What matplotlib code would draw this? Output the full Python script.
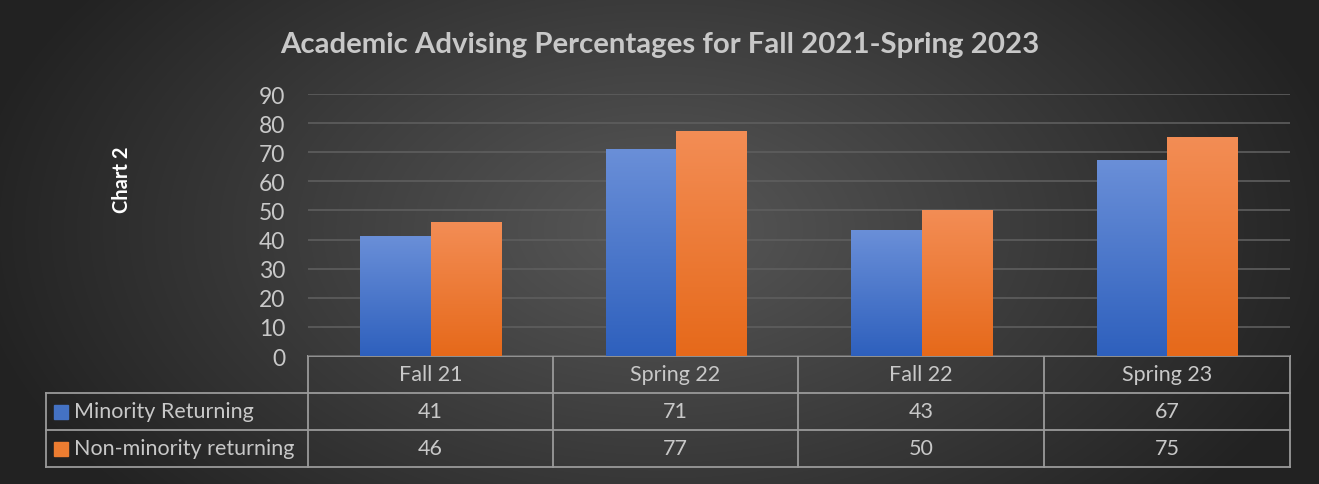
import numpy as np
import matplotlib
matplotlib.use("Agg")
import matplotlib.pyplot as plt
from matplotlib.colors import LinearSegmentedColormap
from matplotlib.patches import Rectangle

categories = ["Fall 21", "Spring 22", "Fall 22", "Spring 23"]
series_names = ["Minority Returning", "Non-minority returning"]
minority = [41, 71, 43, 67]
non_minority = [46, 77, 50, 75]
yticks = [0, 10, 20, 30, 40, 50, 60, 70, 80, 90]

W, H = 1319, 485
FONT = "Lato"
TXT = "#c8c8c8"

fig = plt.figure(figsize=(W / 100, H / 100), dpi=100)

# background radial gradient
bg = fig.add_axes([0, 0, 1, 1])
yy, xx = np.mgrid[0:H, 0:W]
cx, cy = 660, 230
d = np.sqrt(((xx - cx) / 700.0) ** 2 + ((yy - cy) / 420.0) ** 2)
d = np.clip(d, 0, 1)
inner = np.array([0x58, 0x58, 0x58]) / 255
outer = np.array([0x22, 0x22, 0x22]) / 255
img = inner[None, None, :] * (1 - d[..., None]) + outer[None, None, :] * d[..., None]
bg.imshow(img, extent=[0, W, H, 0], aspect="auto")
bg.set_xlim(0, W)
bg.set_ylim(H, 0)
bg.axis("off")

# plot area
x0, x1, ytop, ybot = 308, 1290, 95, 357
ax = fig.add_axes([x0 / W, 1 - ybot / H, (x1 - x0) / W, (ybot - ytop) / H])
ax.patch.set_alpha(0)
ax.set_xlim(-0.5, len(categories) - 0.5)
ax.set_ylim(0, 90)
ax.set_yticks(yticks)
ax.set_yticklabels([str(t) for t in yticks], fontsize=16.5, color=TXT, family=FONT)
ax.tick_params(axis="y", length=0, pad=16.5)
ax.set_xticks([])
for s in ax.spines.values():
    s.set_visible(False)
ax.grid(axis="y", color="#5e5e5e", linewidth=1.2)
ax.set_axisbelow(True)

x = np.arange(len(categories))
bw = 0.288
blue_cmap = LinearSegmentedColormap.from_list("b", ["#2e60bd", "#6a8fd8"])
orange_cmap = LinearSegmentedColormap.from_list("o", ["#e6691a", "#f38d55"])
for vals, off, cmap in [(minority, -bw / 2, blue_cmap), (non_minority, bw / 2, orange_cmap)]:
    bars = ax.bar(x + off, vals, width=bw, color="none", zorder=3)
    for b in bars:
        bx, by = b.get_x(), b.get_y()
        bwid, bh = b.get_width(), b.get_height()
        grad = np.linspace(0, 1, 256).reshape(-1, 1)
        ax.imshow(grad, cmap=cmap, origin="lower", aspect="auto",
                  extent=[bx, bx + bwid, by, by + bh], zorder=3)
ax.set_xlim(-0.5, len(categories) - 0.5)
ax.set_ylim(0, 90)

# title
fig.text(660 / W, 1 - 45 / H, "Academic Advising Percentages for Fall 2021-Spring 2023",
         ha="center", va="center", fontsize=21.2, fontweight="bold", color=TXT, family=FONT)
fig.text(122 / W, 1 - 180 / H, "Chart 2", rotation=90, ha="center", va="center",
         fontsize=14.5, fontweight="bold", color="white", family=FONT)

# data table
LC = "#9a9a9a"
cols = [308, 553, 798, 1044, 1290]
rows = [357, 394, 431, 468]
tl = 46
def hline(y, xa, xb):
    bg.plot([xa, xb], [y, y], color=LC, lw=1.3)
def vline(xv, ya, yb):
    bg.plot([xv, xv], [ya, yb], color=LC, lw=1.3)

hline(rows[0], cols[0], cols[-1])
for r in rows[1:]:
    hline(r, tl, cols[-1])
for c in cols:
    vline(c, rows[0], rows[-1])
vline(tl, rows[1], rows[-1])

TS = 15.5
for i, cat in enumerate(categories):
    xc = (cols[i] + cols[i + 1]) / 2
    bg.text(xc, (rows[0] + rows[1]) / 2, cat, ha="center", va="center",
            fontsize=TS, color=TXT, family=FONT)
    bg.text(xc, (rows[1] + rows[2]) / 2, str(minority[i]), ha="center", va="center",
            fontsize=TS, color=TXT, family=FONT)
    bg.text(xc, (rows[2] + rows[3]) / 2, str(non_minority[i]), ha="center", va="center",
            fontsize=TS, color=TXT, family=FONT)

for j, (name, col) in enumerate(zip(series_names, ["#4472c4", "#ed7d31"])):
    yc = (rows[j + 1] + rows[j + 2]) / 2
    bg.add_patch(Rectangle((54, yc - 7), 14, 14, color=col))
    bg.text(74, yc, name, ha="left", va="center", fontsize=TS, color=TXT, family=FONT)

fig.savefig("out.png", dpi=100)
